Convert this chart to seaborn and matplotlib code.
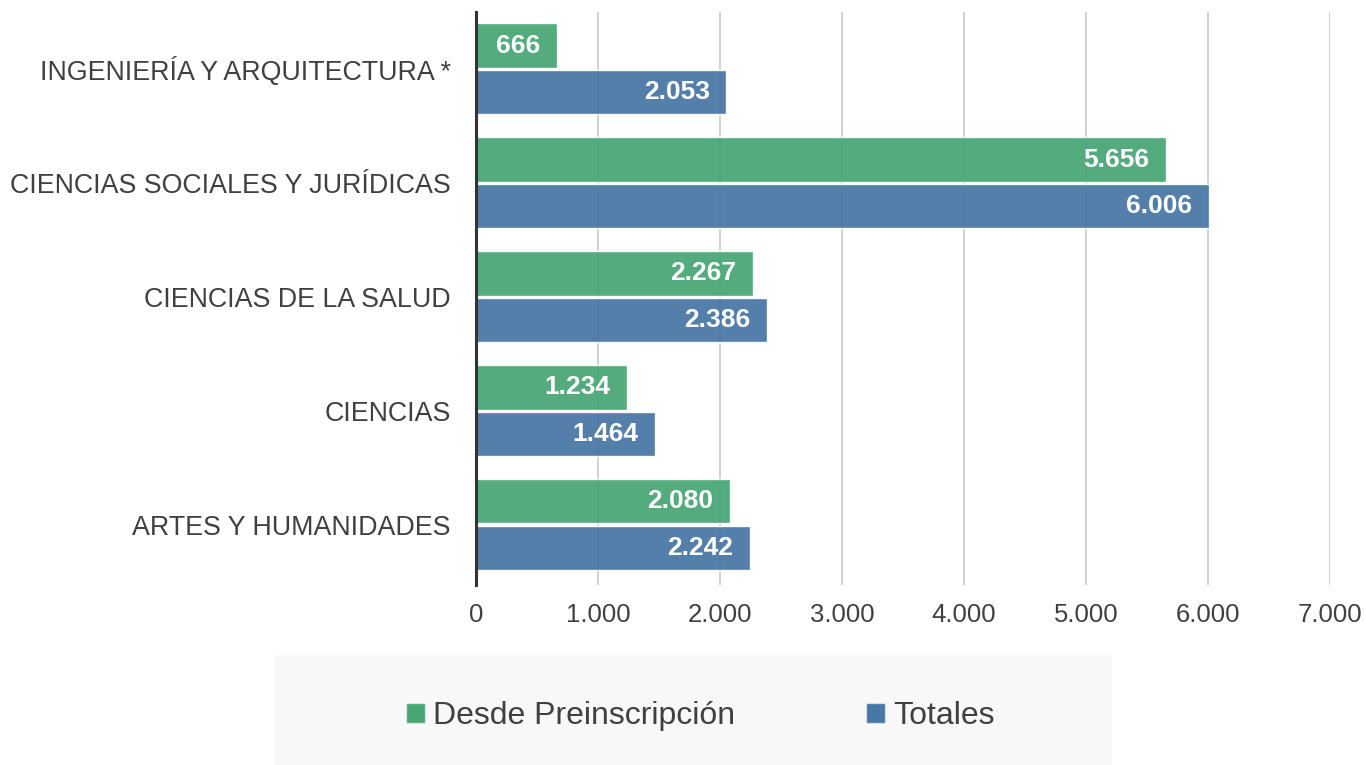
import seaborn as sns
from matplotlib import pyplot as plt
from matplotlib.patches import Patch, Rectangle
from matplotlib.ticker import FuncFormatter
import pandas as pd

categorias = ["INGENIERÍA Y ARQUITECTURA *", "CIENCIAS SOCIALES Y JURÍDICAS",
              "CIENCIAS DE LA SALUD", "CIENCIAS", "ARTES Y HUMANIDADES"]
series = ["Desde Preinscripción", "Totales"]
desde_preinscripcion = [666, 5656, 2267, 1234, 2080]
totales = [2053, 6006, 2386, 1464, 2242]
colores = ["#48a676", "#4877a5"]

df = pd.DataFrame({
    "rama": categorias * 2,
    "serie": [series[0]] * 5 + [series[1]] * 5,
    "valor": desde_preinscripcion + totales,
})


def miles(v, pos=None):
    return f"{int(round(v)):,}".replace(",", ".")


sns.set_style("white")
plt.rcParams["font.family"] = ["Liberation Sans", "DejaVu Sans"]

fig = plt.figure(figsize=(13.66, 7.65), dpi=100)
ax = fig.add_axes([476 / 1366, 1 - 585 / 765, (1330 - 476) / 1366, (585 - 12) / 765])

sns.barplot(data=df, y="rama", x="valor", hue="serie", order=categorias,
            hue_order=series, palette=colores, saturation=1, orient="h",
            width=0.82, gap=0.05, alpha=0.94, linewidth=1,
            edgecolor="#ffffff44", legend=False, ax=ax, zorder=3)

for cont in ax.containers:
    for p in cont:
        w = p.get_width()
        ax.annotate(miles(w), (w, p.get_y() + p.get_height() / 2),
                    xytext=(-12, 0), textcoords="offset points",
                    ha="right", va="center", color="white",
                    fontsize=19, fontweight="bold", zorder=5)

ax.set_xlim(0, 7000)
ax.set_ylim(4.53, -0.5)
ax.set_xticks(range(0, 8000, 1000))
ax.xaxis.set_major_formatter(FuncFormatter(miles))
ax.grid(axis="x", color="#c9c9c9", linewidth=1.2, zorder=0)
ax.grid(axis="y", visible=False)
ax.set_axisbelow(True)
for s in ["top", "right", "bottom"]:
    ax.spines[s].set_visible(False)
ax.spines["left"].set_color("#333333")
ax.spines["left"].set_linewidth(2.2)
ax.spines["left"].set_zorder(6)
ax.tick_params(axis="x", length=0, pad=13, labelsize=18.5, labelcolor="#404040")
ax.tick_params(axis="y", length=0, pad=18, labelsize=19.3, labelcolor="#404040")
ax.set_xlabel("")
ax.set_ylabel("")

fig.patches.append(Rectangle((275 / 1366, 0), (1112 - 275) / 1366, 110 / 765,
                             transform=fig.transFigure, facecolor="#f8f8f8",
                             edgecolor="none", zorder=0))
handles = [Patch(facecolor=c, edgecolor="#ffffff88") for c in colores]
fig.legend(handles, series, loc="center", bbox_to_anchor=(700 / 1366, 1 - 716 / 765),
           ncol=2, frameon=False, fontsize=23, handlelength=0.6,
           handleheight=0.6, handletextpad=0.25, columnspacing=4.1,
           labelcolor="#404040")

fig.savefig("out.png", dpi=100)
